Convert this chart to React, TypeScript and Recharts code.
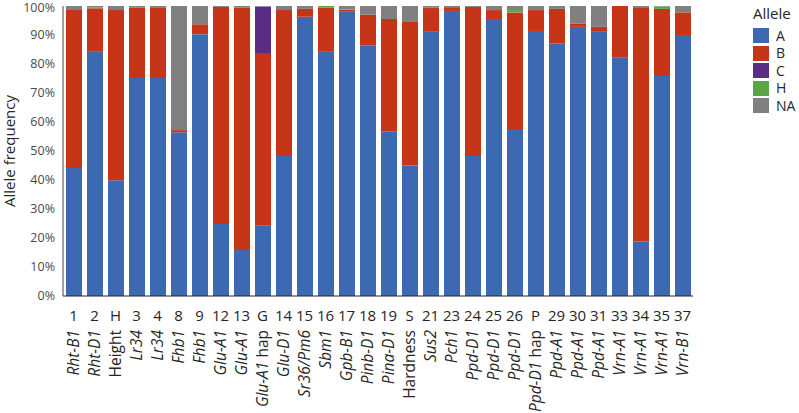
import { Bar, BarChart, Legend, XAxis, YAxis } from "recharts"

const markers = ["1", "2", "H", "3", "4", "8", "9", "12", "13", "G", "14", "15", "16", "17", "18", "19", "S", "21", "23", "24", "25", "26", "P", "29", "30", "31", "33", "34", "35", "37"]

const genes = ["Rht-B1", "Rht-D1", "Height", "Lr34", "Lr34", "Fhb1", "Fhb1", "Glu-A1", "Glu-A1", "Glu-A1 hap", "Glu-D1", "Sr36/Pm6", "Sbm1", "Gpb-B1", "Pinb-D1", "Pina-D1", "Hardness", "Sus2", "Pch1", "Ppd-D1", "Ppd-D1", "Ppd-D1", "Ppd-D1 hap", "Ppd-A1", "Ppd-A1", "Ppd-A1", "Vrn-A1", "Vrn-A1", "Vrn-A1", "Vrn-B1"]

// names that are traits, not genes -> not italic
const plainNames = ["Height", "Hardness"]

// allele frequencies in %
const alleleA = [44.1, 84.2, 39.9, 75.2, 75.2, 56.5, 90.3, 24.8, 15.9, 24.2, 48.3, 96.3, 84.2, 98.0, 86.5, 56.8, 45.0, 91.1, 98.3, 48.3, 95.5, 57.6, 91.4, 87.0, 92.8, 91.1, 82.3, 18.8, 75.9, 90.0]
const alleleB = [54.5, 15.0, 58.7, 24.1, 24.4, 0.7, 3.4, 74.9, 83.4, 59.3, 50.3, 2.7, 15.2, 0.7, 10.5, 38.7, 49.5, 8.2, 1.3, 51.4, 3.1, 40.2, 7.2, 12.0, 1.2, 1.7, 17.7, 80.5, 23.1, 7.8]
const alleleC = [0, 0, 0, 0, 0, 0, 0, 0, 0, 16.3, 0, 0, 0, 0, 0, 0, 0, 0, 0, 0, 0, 0, 0, 0, 0, 0, 0, 0, 0, 0]
const alleleH = [0, 0.3, 0, 0.3, 0, 0, 0, 0, 0.3, 0, 0, 0, 0.6, 0.2, 0, 0, 0, 0.3, 0, 0, 0, 0.8, 0, 0, 0, 0, 0, 0, 0.8, 0]
const alleleNA = [1.4, 0.5, 1.4, 0.4, 0.4, 42.8, 6.3, 0.3, 0.4, 0.2, 1.4, 1.0, 0, 1.1, 3.0, 4.5, 5.5, 0.4, 0.4, 0.3, 1.4, 1.4, 1.4, 1.0, 6.0, 7.2, 0, 0.7, 0.2, 2.2]

const yTicks = [0, 10, 20, 30, 40, 50, 60, 70, 80, 90, 100]

const series = [
  { key: "A", color: "#3c69b1" },
  { key: "B", color: "#c73518" },
  { key: "C", color: "#5a2c86" },
  { key: "H", color: "#5aa545" },
  { key: "NA", color: "#808080" },
]

const data = markers.map((m, i) => ({
  name: i,
  A: alleleA[i],
  B: alleleB[i],
  C: alleleC[i],
  H: alleleH[i],
  NA: alleleNA[i],
}))

const FONT = "'Open Sans', sans-serif"

function GeneName({ name }: { name: string }) {
  if (plainNames.includes(name)) return <tspan>{name}</tspan>
  if (name.endsWith(" hap")) {
    return (
      <>
        <tspan fontStyle="italic">{name.slice(0, -4)}</tspan>
        <tspan> hap</tspan>
      </>
    )
  }
  return <tspan fontStyle="italic">{name}</tspan>
}

function MarkerTick(props: any) {
  const { x, y, payload } = props
  const i = payload.value
  return (
    <g transform={`translate(${x},${y})`} fontFamily={FONT} fill="#262626">
      <text x={0} y={17} textAnchor="middle" fontSize={15}>
        {markers[i]}
      </text>
      <text transform="rotate(-90)" x={-26} y={0} dy="0.36em" textAnchor="end" fontSize={15.5}>
        <GeneName name={genes[i]} />
      </text>
    </g>
  )
}

function AxisTitle(props: any) {
  const { viewBox } = props
  const cy = viewBox.y + viewBox.height / 2
  return (
    <text x={15} y={cy} transform={`rotate(-90, 15, ${cy})`} textAnchor="middle" fontFamily={FONT} fontSize={15} fill="#262626">
      Allele frequency
    </text>
  )
}

function AlleleLegend() {
  return (
    <div style={{ fontFamily: FONT, color: "#262626", fontSize: 14 }}>
      <div style={{ lineHeight: "18px", height: 18, marginBottom: 5, fontSize: 15 }}>Allele</div>
      {series.map((s) => (
        <div key={s.key} style={{ display: "flex", alignItems: "center", height: 17.5, lineHeight: "16px" }}>
          <span style={{ width: 16, height: 15, background: s.color, marginRight: 7, display: "inline-block" }} />
          <span style={{ lineHeight: "16px" }}>{s.key}</span>
        </div>
      ))}
    </div>
  )
}

export default function App() {
  return (
    <div style={{ position: "absolute", left: 0, top: 0 }}>
      <BarChart width={799} height={413} data={data} margin={{ top: 6, right: 60, bottom: 0, left: 0 }} barSize={16}>
        <XAxis
          dataKey="name"
          height={117}
          tickLine={false}
          axisLine={{ stroke: "#262626" }}
          interval={0}
          tick={<MarkerTick />}
        />
        <YAxis
          width={63}
          domain={[0, 100]}
          ticks={yTicks}
          tickFormatter={(v) => `${v}%`}
          tickLine={false}
          axisLine={{ stroke: "#404040" }}
          tick={{ fontSize: 12.5, fill: "#4a4a4a", fontFamily: FONT }}
          label={<AxisTitle />}
          allowDataOverflow
        />
        <Legend content={<AlleleLegend />} layout="vertical" verticalAlign="top" align="right" wrapperStyle={{ top: 4, left: 753, width: 46 }} />
        {series.map((s) => (
          <Bar key={s.key} dataKey={s.key} stackId="allele" fill={s.color} isAnimationActive={false} />
        ))}
      </BarChart>
    </div>
  )
}
